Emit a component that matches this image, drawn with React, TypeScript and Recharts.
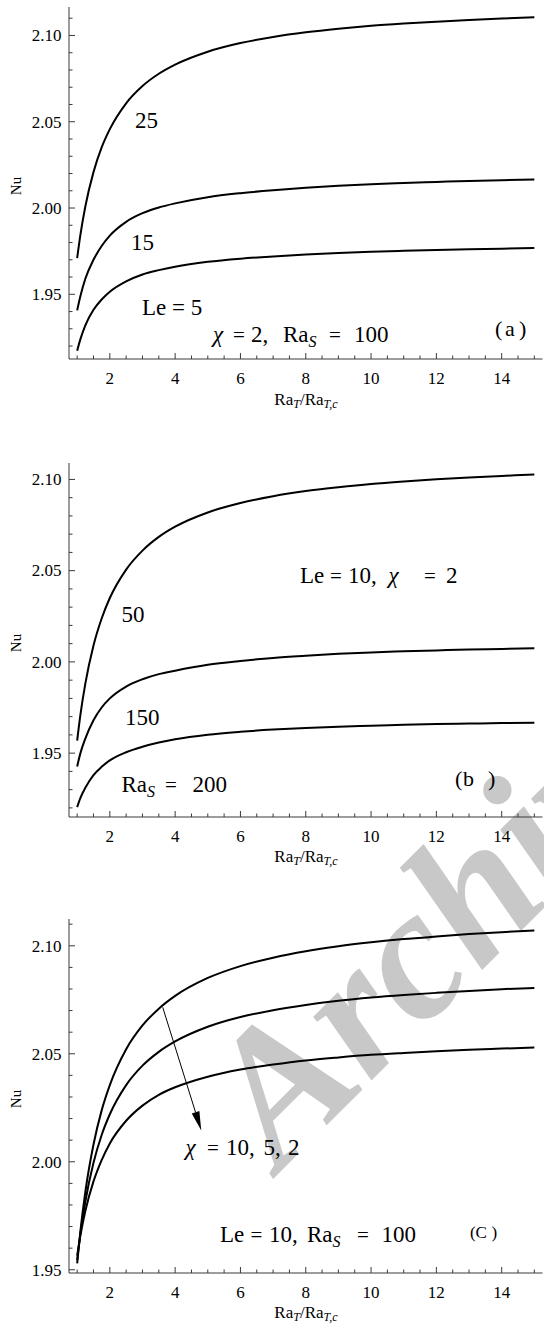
import React from 'react';
import { LineChart, Line, XAxis, YAxis, ReferenceLine } from 'recharts';

// ---------- data ----------
const X = [1, 1.1, 1.25, 1.5, 1.75, 2, 2.5, 3, 3.5, 4, 5, 6, 7, 8, 9, 10, 11, 12, 13, 14, 15];

// panel (a): chi = 2, Ra_S = 100, Le = 25, 15, 5
const A_LE25 = [1.971, 1.9846, 2.0009, 2.0208, 2.0351, 2.0457, 2.0607, 2.0707, 2.0778, 2.0831, 2.0906, 2.0956, 2.0991, 2.1018, 2.1039, 2.1056, 2.1069, 2.108, 2.109, 2.1098, 2.1105];
const A_LE15 = [1.9407, 1.949, 1.959, 1.97, 1.978, 1.984, 1.992, 1.997, 2.0003, 2.0027, 2.0063, 2.0086, 2.0103, 2.0117, 2.0129, 2.0138, 2.0145, 2.0151, 2.0157, 2.0161, 2.0165];
const A_LE5 = [1.9173, 1.924, 1.932, 1.941, 1.947, 1.9515, 1.9575, 1.9615, 1.964, 1.966, 1.9688, 1.9706, 1.9719, 1.973, 1.9739, 1.9746, 1.9752, 1.9757, 1.9761, 1.9764, 1.9768];

// panel (b): Le = 10, chi = 2, Ra_S = 50, 150, 200
const B_RAS50 = [1.9569, 1.9711, 1.9881, 2.009, 2.0238, 2.035, 2.0506, 2.061, 2.0685, 2.0741, 2.0819, 2.0871, 2.0908, 2.0936, 2.0957, 2.0975, 2.0989, 2.1001, 2.1011, 2.1019, 2.1027];
const B_RAS150 = [1.9427, 1.95, 1.958, 1.968, 1.975, 1.98, 1.9865, 1.9905, 1.9933, 1.9952, 1.9984, 2.0005, 2.0022, 2.0034, 2.0044, 2.0052, 2.0058, 2.0063, 2.0068, 2.0071, 2.0075];
const B_RAS200 = [1.9204, 1.9255, 1.931, 1.938, 1.9425, 1.946, 1.9505, 1.9535, 1.9558, 1.9576, 1.9601, 1.9617, 1.9629, 1.9638, 1.9645, 1.965, 1.9655, 1.9659, 1.9662, 1.9665, 1.9667];

// panel (c): Le = 10, Ra_S = 100, chi = 10, 5, 2
const C_CHI10 = [1.953, 1.968, 1.986, 2.008, 2.0238, 2.0355, 2.0521, 2.0631, 2.0709, 2.0768, 2.0851, 2.0906, 2.0945, 2.0975, 2.0998, 2.1016, 2.1031, 2.1043, 2.1054, 2.1063, 2.1071];
const C_CHI5 = [1.9545, 1.9668, 1.9815, 1.9995, 2.0124, 2.022, 2.0355, 2.0445, 2.0509, 2.0557, 2.0625, 2.067, 2.0702, 2.0726, 2.0745, 2.076, 2.0772, 2.0782, 2.0791, 2.0799, 2.0805];
const C_CHI2 = [1.9565, 1.9659, 1.9772, 1.9909, 2.0008, 2.0085, 2.019, 2.026, 2.031, 2.0345, 2.0394, 2.0427, 2.045, 2.0469, 2.0483, 2.0495, 2.0504, 2.0512, 2.0519, 2.0524, 2.0529];

// arrow in panel (c), data coordinates
const C_ARROW = [{ x: 3.62, y: 2.0715 }, { x: 4.8, y: 2.0145 }];

// ticks
const X_TICKS = [1, 1.5, 2, 2.5, 3, 3.5, 4, 4.5, 5, 5.5, 6, 6.5, 7, 7.5, 8, 8.5, 9, 9.5, 10, 10.5, 11, 11.5, 12, 12.5, 13, 13.5, 14, 14.5, 15];
const X_MAJOR = [2, 4, 6, 8, 10, 12, 14];
const Y_TICKS_A = [1.92, 1.93, 1.94, 1.95, 1.96, 1.97, 1.98, 1.99, 2.0, 2.01, 2.02, 2.03, 2.04, 2.05, 2.06, 2.07, 2.08, 2.09, 2.1, 2.11];
const Y_TICKS_B = [1.92, 1.93, 1.94, 1.95, 1.96, 1.97, 1.98, 1.99, 2.0, 2.01, 2.02, 2.03, 2.04, 2.05, 2.06, 2.07, 2.08, 2.09, 2.1];
const Y_TICKS_C = [1.95, 1.96, 1.97, 1.98, 1.99, 2.0, 2.01, 2.02, 2.03, 2.04, 2.05, 2.06, 2.07, 2.08, 2.09, 2.1, 2.11];

const X_DOMAIN: [number, number] = [0.75, 15.25];
const Y_DOMAIN_A: [number, number] = [1.9125, 2.1165];
const Y_DOMAIN_B: [number, number] = [1.915, 2.109];
const Y_DOMAIN_C: [number, number] = [1.9485, 2.1124];

// ---------- styling ----------
const FRAME = '#3a3a3a';
const FONT = '"Liberation Serif", "Times New Roman", serif';
const MAJ = 6;
const MIN = 3.5;

const isMajorY = (v: number) => Math.abs(v * 20 - Math.round(v * 20)) < 1e-6;
const isMajorX = (v: number) => X_MAJOR.some((m) => Math.abs(m - v) < 1e-9);

const fontStyle = { fontFamily: FONT };

const BottomTick = (p: any) => {
  const { x, y, payload } = p;
  const major = isMajorX(payload.value);
  return (
    <g>
      <line x1={x} x2={x} y1={y} y2={y - (major ? MAJ : MIN)} stroke={FRAME} strokeWidth={1} />
      {major && (
        <text x={x} y={y + 25} textAnchor="middle" style={fontStyle} fontSize={17} fill="#000">
          {payload.value}
        </text>
      )}
    </g>
  );
};
const TopTick = (p: any) => {
  const { x, y, payload } = p;
  const major = isMajorX(payload.value);
  return <line x1={x} x2={x} y1={y} y2={y + (major ? MAJ : MIN)} stroke={FRAME} strokeWidth={1} />;
};
const LeftTick = (p: any) => {
  const { x, y, payload } = p;
  const major = isMajorY(payload.value);
  return (
    <g>
      <line x1={x} x2={x + (major ? MAJ : MIN)} y1={y} y2={y} stroke={FRAME} strokeWidth={1} />
      {major && (
        <text x={x - 7.5} y={y + 5.8} textAnchor="end" style={fontStyle} fontSize={17} fill="#000">
          {Number(payload.value).toFixed(2)}
        </text>
      )}
    </g>
  );
};
const RightTick = (p: any) => {
  const { x, y, payload } = p;
  const major = isMajorY(payload.value);
  return <line x1={x} x2={x - (major ? MAJ : MIN)} y1={y} y2={y} stroke={FRAME} strokeWidth={1} />;
};

const ArrowShape = (p: any) => {
  const { x1, y1, x2, y2 } = p;
  const dx = x2 - x1;
  const dy = y2 - y1;
  const len = Math.sqrt(dx * dx + dy * dy);
  const ux = dx / len;
  const uy = dy / len;
  const headL = 19;
  const headW = 4;
  const bx = x2 - ux * headL;
  const by = y2 - uy * headL;
  const pts = `${x2},${y2} ${bx - uy * headW},${by + ux * headW} ${bx + uy * headW},${by - ux * headW}`;
  return (
    <g>
      <line x1={x1} y1={y1} x2={bx} y2={by} stroke="#000" strokeWidth={1} />
      <polygon points={pts} fill="#000" />
    </g>
  );
};

type PanelProps = {
  offsetTop: number;
  plotTop: number;
  plotBottom: number;
  yDomain: [number, number];
  yTicks: number[];
  series: number[][];
  arrow?: { x: number; y: number }[];
};

function Panel({ offsetTop, plotTop, plotBottom, yDomain, yTicks, series, arrow }: PanelProps) {
  const data = X.map((x, i) => ({ x, s0: series[0][i], s1: series[1][i], s2: series[2][i] }));
  const height = plotBottom - offsetTop + 55;
  return (
    <div style={{ position: 'absolute', left: 0, top: offsetTop }}>
      <LineChart width={544} height={height} data={data} margin={{ top: plotTop - offsetTop, right: 1.5, bottom: 0, left: 0 }}>
        <XAxis
          dataKey="x"
          type="number"
          domain={X_DOMAIN}
          ticks={X_TICKS}
          interval={0}
          allowDataOverflow
          height={55}
          axisLine={{ stroke: FRAME, strokeWidth: 1 }}
          tickLine={false}
          tickSize={0}
          tickMargin={0}
          tick={BottomTick}
        />
        <XAxis
          xAxisId="top"
          orientation="top"
          type="number"
          domain={X_DOMAIN}
          ticks={X_TICKS}
          interval={0}
          allowDataOverflow
          height={0}
          axisLine={{ stroke: FRAME, strokeWidth: 1 }}
          tickLine={false}
          tickSize={0}
          tickMargin={0}
          tick={TopTick}
        />
        <YAxis
          type="number"
          domain={yDomain}
          ticks={yTicks}
          interval={0}
          allowDataOverflow
          width={69}
          axisLine={{ stroke: FRAME, strokeWidth: 1 }}
          tickLine={false}
          tickSize={0}
          tickMargin={0}
          tick={LeftTick}
        />
        <YAxis
          yAxisId="r"
          orientation="right"
          type="number"
          domain={yDomain}
          ticks={yTicks}
          interval={0}
          allowDataOverflow
          width={0}
          axisLine={{ stroke: FRAME, strokeWidth: 1 }}
          tickLine={false}
          tickSize={0}
          tickMargin={0}
          tick={RightTick}
        />
        {['s0', 's1', 's2'].map((k) => (
          <Line key={k} dataKey={k} type="monotone" stroke="#000" strokeWidth={2} dot={false} isAnimationActive={false} />
        ))}
        {arrow && <ReferenceLine segment={arrow} ifOverflow="visible" shape={ArrowShape} />}
      </LineChart>
    </div>
  );
}

function T(props: any) {
  const { style, ...rest } = props;
  return <text fill="#000" style={{ fontFamily: FONT, whiteSpace: 'pre', ...(style || {}) }} {...rest} />;
}

function XTitle({ y }: { y: number }) {
  return (
    <T x={306} y={y} textAnchor="middle" fontSize={17}>
      Ra<tspan fontStyle="italic" fontSize={12} dy={3}>T</tspan>
      <tspan dy={-3}>/Ra</tspan>
      <tspan fontStyle="italic" fontSize={12} dy={3}>T,c</tspan>
    </T>
  );
}

function YTitle({ y }: { y: number }) {
  return (
    <T x={0} y={0} transform={`translate(20.5, ${y}) rotate(-90)`} textAnchor="middle" fontSize={15}>
      Nu
    </T>
  );
}

function RaS({ x, y }: { x: number; y: number }) {
  return (
    <T x={x} y={y} fontSize={23}>
      Ra<tspan fontStyle="italic" fontSize={16} dy={5}>S</tspan>
    </T>
  );
}

function Annotations() {
  return (
    <svg width={544} height={1335} style={{ position: 'absolute', left: 0, top: 0, pointerEvents: 'none' }}>
      {/* panel a */}
      <T fontSize={23} x={146.5} y={128} textAnchor="middle">25</T>
      <T fontSize={23} x={142.5} y={250} textAnchor="middle">15</T>
      <T fontSize={23} x={142} y={315}>Le = 5</T>
      <T fontSize={23} x={213} y={342} fontStyle="italic">χ</T>
      <T fontSize={21} x={233} y={342}>=</T>
      <T fontSize={23} x={251} y={342}>2,</T>
      <RaS x={283} y={342} />
      <T fontSize={21} x={329} y={342}>=</T>
      <T fontSize={23} x={354} y={342}>100</T>
      <T fontSize={22} x={495} y={336}>(</T>
      <T fontSize={22} x={505} y={336}>a</T>
      <T fontSize={22} x={519} y={336}>)</T>
      <XTitle y={405} />
      <YTitle y={186} />

      {/* panel b */}
      <T fontSize={23} x={121.5} y={621.5}>50</T>
      <T fontSize={23} x={125} y={725}>150</T>
      <RaS x={121.5} y={791.5} />
      <T fontSize={21} x={165} y={791.5}>=</T>
      <T fontSize={23} x={192.5} y={791.5}>200</T>
      <T fontSize={23} x={300} y={583}>Le</T>
      <T fontSize={21} x={330} y={583}>=</T>
      <T fontSize={23} x={348} y={583}>10,</T>
      <T fontSize={23} x={388.5} y={583} fontStyle="italic">χ</T>
      <T fontSize={21} x={424} y={583}>=</T>
      <T fontSize={23} x={446} y={583}>2</T>
      <T fontSize={22} x={455} y={786}>(</T>
      <T fontSize={22} x={463} y={786}>b</T>
      <T fontSize={22} x={488} y={786}>)</T>
      <XTitle y={862} />
      <YTitle y={643} />

      {/* panel c */}
      <T fontSize={23} x={185.5} y={1155} fontStyle="italic">χ</T>
      <T fontSize={21} x={207} y={1155}>=</T>
      <T fontSize={23} x={226} y={1155}>10,</T>
      <T fontSize={23} x={263.5} y={1155}>5,</T>
      <T fontSize={23} x={288} y={1155}>2</T>
      <T fontSize={23} x={220} y={1241.5}>Le</T>
      <T fontSize={21} x={250.5} y={1241.5}>=</T>
      <T fontSize={23} x={269} y={1241.5}>10,</T>
      <RaS x={307} y={1241.5} />
      <T fontSize={21} x={357} y={1241.5}>=</T>
      <T fontSize={23} x={381.5} y={1241.5}>100</T>
      <T fontSize={17} x={470} y={1238}>(</T>
      <T fontSize={17} x={475.5} y={1238}>C</T>
      <T fontSize={17} x={491.5} y={1238}>)</T>
      <XTitle y={1318} />
      <YTitle y={1099} />
    </svg>
  );
}

function Watermark() {
  return (
    <svg width={544} height={1335} style={{ position: 'absolute', left: 0, top: 0, pointerEvents: 'none' }}>
      <text
        transform="translate(280, 1172) rotate(-45)"
        style={{ fontFamily: FONT }}
        fontWeight="bold"
        fontStyle="italic"
        fontSize={188}
        fill="#c8c8c8"
      >
        Archive of SID
      </text>
    </svg>
  );
}

export default function App() {
  return (
    <div style={{ position: 'absolute', left: 0, top: 0, width: 544, height: 1335, background: '#fff', overflow: 'hidden' }}>
      <Watermark />
      <Panel offsetTop={0} plotTop={7} plotBottom={359} yDomain={Y_DOMAIN_A} yTicks={Y_TICKS_A} series={[A_LE25, A_LE15, A_LE5]} />
      <Panel offsetTop={440} plotTop={463} plotBottom={817} yDomain={Y_DOMAIN_B} yTicks={Y_TICKS_B} series={[B_RAS50, B_RAS150, B_RAS200]} />
      <Panel offsetTop={890} plotTop={919} plotBottom={1273} yDomain={Y_DOMAIN_C} yTicks={Y_TICKS_C} series={[C_CHI10, C_CHI5, C_CHI2]} arrow={C_ARROW} />
      <Annotations />
    </div>
  );
}
